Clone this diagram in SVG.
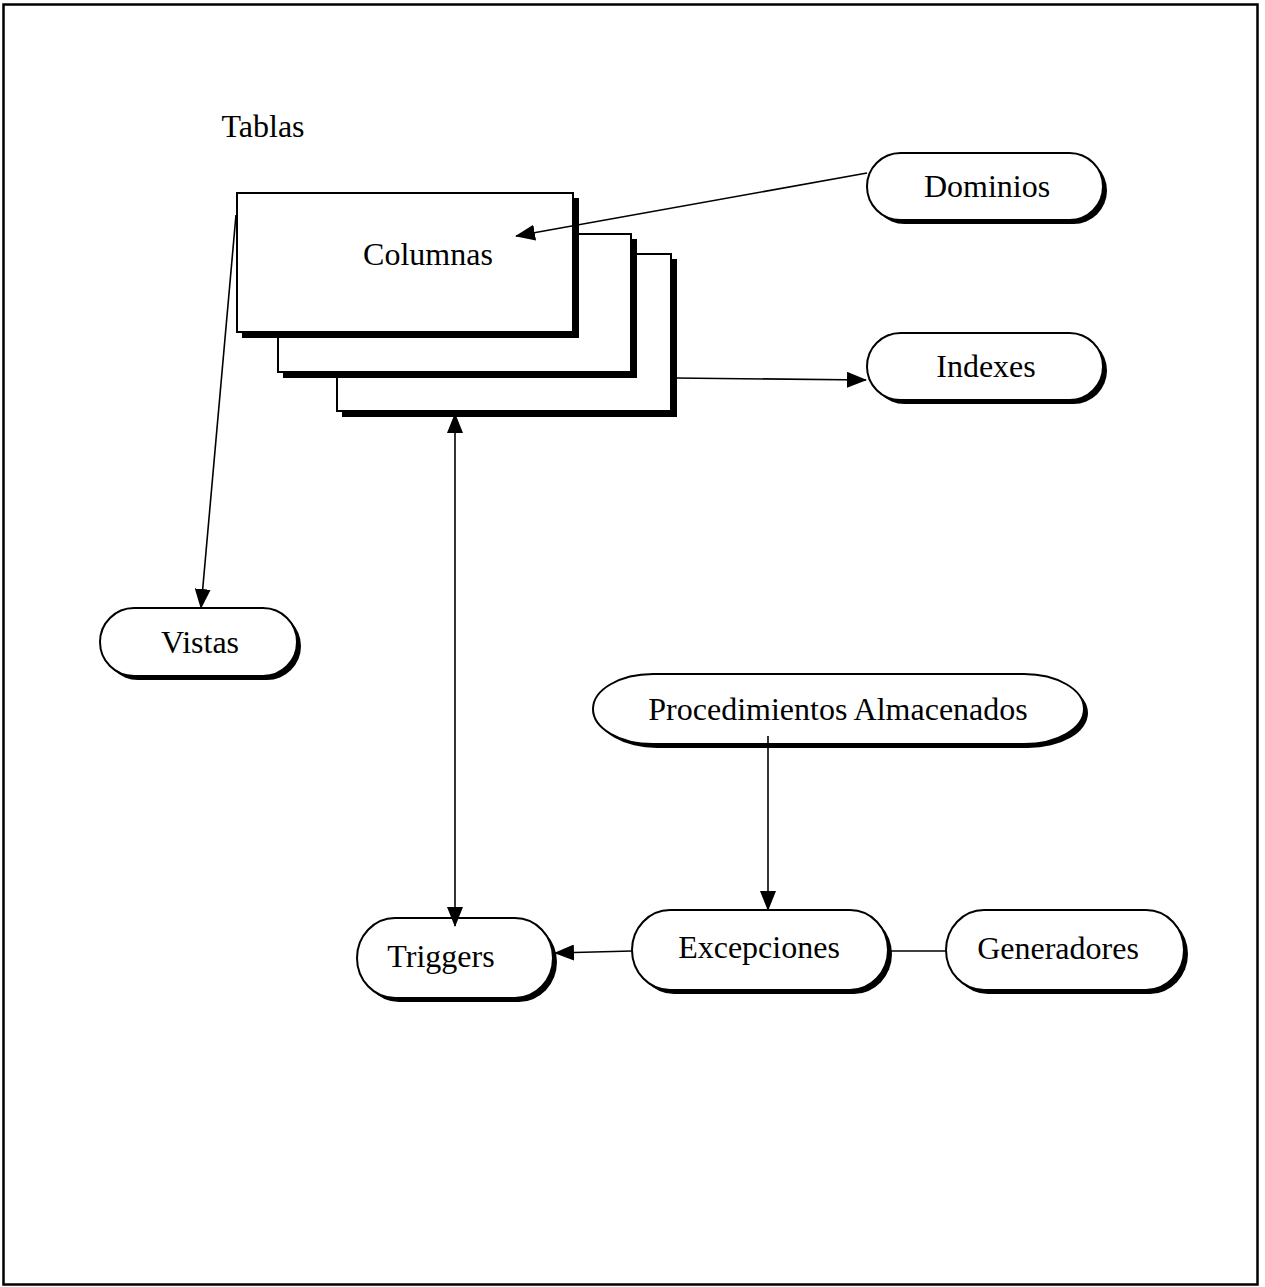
<svg xmlns="http://www.w3.org/2000/svg" width="1265" height="1287" viewBox="0 0 1265 1287">
  <style>
    .lbl { font-family: "Liberation Serif", "Times New Roman", serif; font-size: 32px; fill: #000; text-anchor: middle; }
    .box { fill: #fff; stroke: #000; stroke-width: 2; }
    .shadow { fill: #000; }
    .edge { fill: none; stroke: #000; stroke-width: 1.6; }
  </style>
  <defs>
    <marker id="arrow" viewBox="0 0 20 16" refX="19" refY="8" markerWidth="20" markerHeight="16" markerUnits="userSpaceOnUse" orient="auto-start-reverse">
      <path d="M0,0 L20,8 L0,16 Z" fill="#000"/>
    </marker>
  </defs>

  <rect width="1265" height="1287" fill="#fff"/>
  <!-- outer frame -->
  <rect x="3.5" y="4.5" width="1254" height="1280" fill="none" stroke="#000" stroke-width="2.5"/>

  <!-- table stack -->
  <g id="tablas">
    <text class="lbl" x="263" y="137">Tablas</text>
    <rect class="shadow" x="342" y="259" width="335" height="158"/>
    <rect class="box" x="337" y="254" width="334" height="157"/>
    <rect class="shadow" x="283" y="239" width="354" height="139"/>
    <rect class="box" x="278" y="234" width="353" height="138"/>
    <rect class="shadow" x="242" y="198" width="337" height="140"/>
    <rect class="box" x="237" y="193" width="336" height="139"/>
    <text class="lbl" x="428" y="265">Columnas</text>
  </g>

  <g id="dominios">
    <rect class="shadow" x="871" y="157" width="236" height="67" rx="33.5"/>
    <rect class="box" x="867" y="153" width="236" height="67" rx="33.5"/>
    <text class="lbl" x="987" y="197">Dominios</text>
  </g>

  <g id="indexes">
    <rect class="shadow" x="871" y="337" width="236" height="67" rx="33.5"/>
    <rect class="box" x="867" y="333" width="236" height="67" rx="33.5"/>
    <text class="lbl" x="986" y="377">Indexes</text>
  </g>

  <g id="vistas">
    <rect class="shadow" x="104" y="612" width="197" height="68" rx="34"/>
    <rect class="box" x="100" y="608" width="197" height="68" rx="34"/>
    <text class="lbl" x="200" y="653">Vistas</text>
  </g>

  <g id="procedimientos">
    <rect class="shadow" x="597" y="678" width="491" height="70" rx="60" ry="35"/>
    <rect class="box" x="593" y="674" width="491" height="70" rx="60" ry="35"/>
    <text class="lbl" x="838" y="720">Procedimientos Almacenados</text>
  </g>

  <g id="triggers">
    <rect class="shadow" x="361" y="922" width="196" height="80" rx="38" ry="40"/>
    <rect class="box" x="357" y="918" width="196" height="80" rx="38" ry="40"/>
    <text class="lbl" x="441" y="967">Triggers</text>
  </g>

  <g id="excepciones">
    <rect class="shadow" x="636" y="914" width="256" height="80" rx="38" ry="40"/>
    <rect class="box" x="632" y="910" width="256" height="80" rx="38" ry="40"/>
    <text class="lbl" x="759" y="958">Excepciones</text>
  </g>

  <g id="generadores">
    <rect class="shadow" x="950" y="914" width="238" height="80" rx="38" ry="40"/>
    <rect class="box" x="946" y="910" width="238" height="80" rx="38" ry="40"/>
    <text class="lbl" x="1058" y="959">Generadores</text>
  </g>

  <g id="connectors">
    <line class="edge" x1="867" y1="173" x2="516" y2="236" marker-end="url(#arrow)"/>
    <line class="edge" x1="236" y1="215" x2="201" y2="608" marker-end="url(#arrow)"/>
    <line class="edge" x1="675" y1="378" x2="866" y2="380" marker-end="url(#arrow)"/>
    <line class="edge" x1="455" y1="414" x2="455" y2="926" marker-start="url(#arrow)" marker-end="url(#arrow)"/>
    <line class="edge" x1="768" y1="736" x2="768" y2="910" marker-end="url(#arrow)"/>
    <line class="edge" x1="632" y1="951" x2="555" y2="953" marker-end="url(#arrow)"/>
    <line class="edge" x1="888" y1="951" x2="946" y2="951"/>
  </g>
</svg>
